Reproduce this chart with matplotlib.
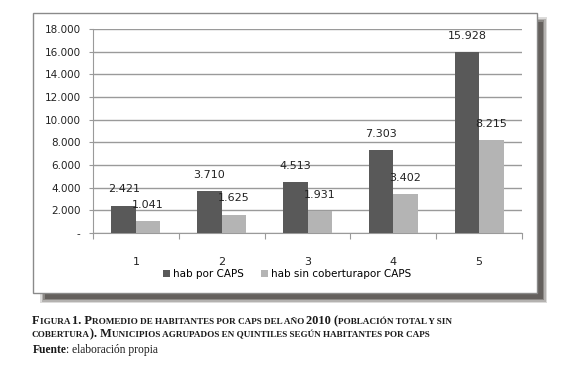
import numpy as np
import matplotlib.pyplot as plt
from matplotlib.patches import Rectangle

# datos
quintiles = ["1", "2", "3", "4", "5"]
hab_caps = [2421, 3710, 4513, 7303, 15928]
hab_sin_cob = [1041, 1625, 1931, 3402, 8215]
etiquetas_y = ["-", "2.000", "4.000", "6.000", "8.000", "10.000", "12.000", "14.000", "16.000", "18.000"]
serie_1 = "hab por CAPS"
serie_2 = "hab sin coberturapor CAPS"

caption_1 = "Figura 1. Promedio de habitantes por caps del año 2010 (población total y sin"
caption_2 = "cobertura). Municipios agrupados en quintiles según habitantes por caps"

W, H = 580, 370
fig = plt.figure(figsize=(W / 100, H / 100), dpi=100)

def fx(px):
    return px / W

def fy(py):
    return 1 - py / H

def caja(x0, y0, x1, y1, **kw):
    # rectangulo en pixeles (arriba-izquierda como origen)
    return Rectangle((fx(x0), fy(y1)), fx(x1 - x0), fy(y0) - fy(y1),
                     transform=fig.transFigure, **kw)

# sombra difusa
for d, a in [(0, 0.18), (1.5, 0.25), (3, 0.35), (4.5, 0.5)]:
    fig.patches.append(caja(40 + d, 17 + d, 547 - d, 303 - d, facecolor="#3f3a36",
                            alpha=a, edgecolor="none", zorder=0))
# marco
fig.patches.append(caja(33, 13, 537, 293, facecolor="white", edgecolor="#8a8a8a",
                        linewidth=1, zorder=1))

ax = fig.add_axes([fx(93), fy(233), fx(522 - 93), fy(29) - fy(233)])
ax.set_zorder(2)
ax.patch.set_alpha(0)

x = np.arange(len(quintiles))
w = 0.285
b1 = ax.bar(x - w / 2, hab_caps, w, color="#595959", label=serie_1, zorder=3)
b2 = ax.bar(x + w / 2, hab_sin_cob, w, color="#b4b4b4", label=serie_2, zorder=3)

def fmt(v):
    return "{:,}".format(v).replace(",", ".")

for bars, vals in [(b1, hab_caps), (b2, hab_sin_cob)]:
    for r, v in zip(bars, vals):
        ax.annotate(fmt(v), (r.get_x() + r.get_width() / 2, v), xytext=(0, 8),
                    textcoords="offset points", ha="center", va="bottom",
                    fontsize=8, color="#222222", family="DejaVu Sans")

ax.set_ylim(0, 18000)
ax.set_xlim(-0.5, 4.5)
ax.set_yticks(np.arange(0, 18001, 2000))
ax.set_yticklabels(etiquetas_y, fontsize=7.5, color="#222222")
ax.yaxis.grid(True, color="#9a9a9a", linewidth=1)
ax.set_axisbelow(True)
ax.tick_params(axis="y", length=3, color="#9a9a9a", pad=6)

ax.set_xticks(np.arange(-0.5, 5, 1))
ax.set_xticklabels([])
ax.tick_params(axis="x", which="major", length=4, color="#9a9a9a", direction="out")
ax.set_xticks(x, minor=True)
ax.set_xticklabels(quintiles, minor=True, fontsize=8, color="#222222")
ax.tick_params(axis="x", which="minor", length=0, pad=17)

for s in ["top", "right"]:
    ax.spines[s].set_visible(False)
for s in ["left", "bottom"]:
    ax.spines[s].set_color("#9a9a9a")

fig.legend(loc="center", bbox_to_anchor=(fx(287), fy(274)), ncol=2, frameon=False,
           fontsize=7.5, handlelength=0.7, handleheight=0.7, handletextpad=0.3,
           columnspacing=1.6, borderpad=0)

# pie de figura en versalitas
renderer = fig.canvas.get_renderer()
serif = "Liberation Serif"

def versalitas(texto, x0, y0, big=8.9, small=6.6):
    xpos = x0
    seg = ""
    cur = None
    parts = []
    for ch in texto:
        kind = "s" if ch.islower() else "b"
        if ch == " ":
            kind = cur or "b"
        if kind != cur and seg:
            parts.append((seg, cur))
            seg = ""
        cur = kind
        seg += ch
    if seg:
        parts.append((seg, cur))
    for s, k in parts:
        t = fig.text(fx(xpos), fy(y0), s.upper(), fontsize=big if k == "b" else small,
                     family=serif, weight="bold", color="#1a1a1a", va="baseline", ha="left")
        bb = t.get_window_extent(renderer)
        xpos += bb.width

versalitas(caption_1, 32, 324)
versalitas(caption_2, 32, 337)
tf = fig.text(fx(33), fy(353), "Fuente", fontsize=8.3, family=serif, weight="bold", color="#1a1a1a", va="baseline")
bb = tf.get_window_extent(renderer)
fig.text(fx(33 + bb.width - 1), fy(353), ": elaboración propia", fontsize=8.3, family=serif, color="#1a1a1a", va="baseline")

fig.savefig("out.png", dpi=100)
